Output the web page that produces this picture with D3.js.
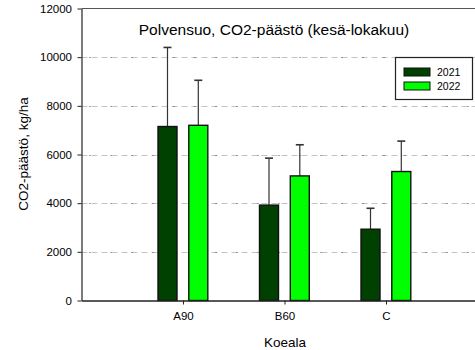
<!DOCTYPE html>
<html>
<head>
<meta charset="utf-8">
<script src="https://cdnjs.cloudflare.com/ajax/libs/d3/7.8.5/d3.min.js"></script>
<style>
	body { margin: 0; background: #fff; }
	text { font-family: "Liberation Sans", Arial, sans-serif; fill: #000; }
</style>
</head>
<body>
<div id="chart"></div>
<script>
	// data
	var categories = ['A90', 'B60', 'C'];
	var years = ['2021', '2022'];
	var means2021 = [7150, 3920, 2930];
	var means2022 = [7200, 5120, 5300];
	var errTop2021 = [10400, 5850, 3790];
	var errTop2022 = [9050, 6400, 6550];
	var yTicks = [0, 2000, 4000, 6000, 8000, 10000, 12000];
	var colors = ['#004000', '#00ff00'];

	var width = 475, height = 350;
	// note: 'top' is reserved on window, so use plotTop
	var plotLeft = 81.5, plotTop = 8.5, plotBottom = 300.5;

	var svg = d3.select('#chart').append('svg')
		.attr('width', width)
		.attr('height', height);

	// scales: categories sit at 1,2,3 on a 0..4 axis, the right end runs off the picture
	var x = d3.scaleLinear().domain([0, 4]).range([plotLeft, plotLeft + 4 * 101.5]);
	var y = d3.scaleLinear().domain([0, 12000]).range([plotBottom, plotTop]);

	// dash-dot gridlines
	var grid = svg.append('g').attr('class', 'grid');
	grid.selectAll('line.g1')
		.data(yTicks.slice(1, -1))
		.enter().append('line')
		.attr('class', 'g1')
		.attr('x1', plotLeft).attr('x2', width)
		.attr('y1', function (d) { return Math.round(y(d)) + 0.5; })
		.attr('y2', function (d) { return Math.round(y(d)) + 0.5; })
		.attr('stroke', '#c4c4c4')
		.attr('stroke-dasharray', '6,4');
	grid.selectAll('line.g2')
		.data(yTicks.slice(1, -1))
		.enter().append('line')
		.attr('class', 'g2')
		.attr('x1', plotLeft + 8).attr('x2', width)
		.attr('y1', function (d) { return Math.round(y(d)) + 0.5; })
		.attr('y2', function (d) { return Math.round(y(d)) + 0.5; })
		.attr('stroke', '#555')
		.attr('stroke-dasharray', '1,20');

	// bars
	var series = [
		{ year: years[0], values: means2021, tops: errTop2021, offset: -15.5, color: colors[0] },
		{ year: years[1], values: means2022, tops: errTop2022, offset: 15.3, color: colors[1] }
	];
	var barW = 19;

	series.forEach(function (s) {
		var g = svg.append('g').attr('class', 'series');
		// error bars (upper only)
		g.selectAll('line.err')
			.data(categories)
			.enter().append('line')
			.attr('class', 'err')
			.attr('x1', function (d, i) { return x(i + 1) + s.offset; })
			.attr('x2', function (d, i) { return x(i + 1) + s.offset; })
			.attr('y1', function (d, i) { return y(s.values[i]); })
			.attr('y2', function (d, i) { return y(s.tops[i]); })
			.attr('stroke', '#333')
			.attr('stroke-width', 1.2);
		g.selectAll('line.cap')
			.data(categories)
			.enter().append('line')
			.attr('class', 'cap')
			.attr('x1', function (d, i) { return x(i + 1) + s.offset - 4; })
			.attr('x2', function (d, i) { return x(i + 1) + s.offset + 4; })
			.attr('y1', function (d, i) { return y(s.tops[i]); })
			.attr('y2', function (d, i) { return y(s.tops[i]); })
			.attr('stroke', '#333')
			.attr('stroke-width', 1.6);
		g.selectAll('rect')
			.data(categories)
			.enter().append('rect')
			.attr('x', function (d, i) { return x(i + 1) + s.offset - barW / 2; })
			.attr('y', function (d, i) { return y(s.values[i]); })
			.attr('width', barW)
			.attr('height', function (d, i) { return y(0) - y(s.values[i]); })
			.attr('fill', s.color)
			.attr('stroke', '#111')
			.attr('stroke-width', 1.4);
	});

	// axes
	var yAxis = svg.append('g')
		.attr('transform', 'translate(' + plotLeft + ',0)')
		.call(d3.axisLeft(y).tickValues(yTicks).tickSize(4).tickSizeOuter(0).tickFormat(d3.format('d')));
	yAxis.select('.domain').attr('stroke', '#222').attr('stroke-width', 1.2);
	yAxis.selectAll('.tick line').attr('stroke', '#222');
	yAxis.selectAll('.tick text').attr('x', -9.5).style('font-size', '11.5px').style('font-family', '"Liberation Sans", Arial, sans-serif');

	var xAxis = svg.append('g')
		.attr('transform', 'translate(0,' + plotBottom + ')')
		.call(d3.axisBottom(x).tickValues([1, 2, 3]).tickSize(4).tickSizeOuter(0)
			.tickFormat(function (d) { return categories[d - 1]; }));
	xAxis.select('.domain').attr('stroke', '#222').attr('stroke-width', 1.6);
	xAxis.selectAll('.tick line').attr('stroke', '#222');
	xAxis.selectAll('.tick text').attr('y', 11).style('font-size', '11.5px').style('font-family', '"Liberation Sans", Arial, sans-serif');

	// top frame line
	svg.append('line')
		.attr('x1', plotLeft).attr('x2', width)
		.attr('y1', plotTop).attr('y2', plotTop)
		.attr('stroke', '#555').attr('stroke-width', 1.2);

	// titles
	svg.append('text')
		.attr('x', 274).attr('y', 35)
		.attr('text-anchor', 'middle')
		.style('font-size', '15.5px')
		.text('Polvensuo, CO2-päästö (kesä-lokakuu)');

	svg.append('text')
		.attr('transform', 'translate(28,' + 154 + ') rotate(-90)')
		.attr('text-anchor', 'middle')
		.style('font-size', '13.5px')
		.text('CO2-päästö, kg/ha');

	svg.append('text')
		.attr('x', 285).attr('y', 346.5)
		.attr('text-anchor', 'middle')
		.style('font-size', '13.5px')
		.text('Koeala');

	// legend
	var legend = svg.append('g').attr('class', 'legend');
	legend.append('rect')
		.attr('x', 395.5).attr('y', 57.5)
		.attr('width', 77).attr('height', 42)
		.attr('fill', '#fff')
		.attr('stroke', '#222').attr('stroke-width', 1.2);
	var items = legend.selectAll('g.item')
		.data(series)
		.enter().append('g')
		.attr('class', 'item')
		.attr('transform', function (d, i) { return 'translate(404,' + (68 + i * 14) + ')'; });
	items.append('rect')
		.attr('width', 26).attr('height', 8)
		.attr('fill', function (d) { return d.color; })
		.attr('stroke', '#111');
	items.append('text')
		.attr('x', 33).attr('y', 8)
		.style('font-size', '10.5px')
		.text(function (d) { return d.year; });
</script>
</body>
</html>
